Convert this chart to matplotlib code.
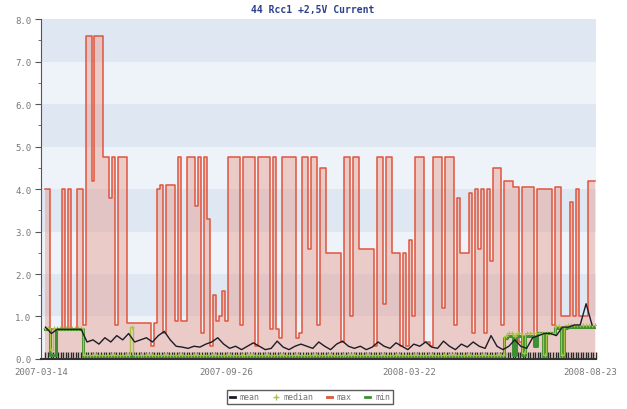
import numpy as np
import matplotlib
matplotlib.use("Agg")
import matplotlib.pyplot as plt
from matplotlib.lines import Line2D

# --- datos (una muestra cada ~3 px) ---
titulo = "44 Rcc1 +2,5V Current"
etiquetas_x = ["2007-03-14", "2007-09-26", "2008-03-22", "2008-08-23"]
pos_etiquetas_x = [-1.5, 61.0, 122.5, 183.5]

valores_max = [
    4.0, 4.0, 0.7, 0.7, 0.7, 0.7, 4.0, 0.7, 4.0, 0.7,
    0.7, 4.0, 4.0, 0.8, 7.6, 7.6, 4.2, 7.6, 7.6, 7.6,
    4.75, 4.75, 3.8, 4.75, 0.8, 4.75, 4.75, 4.75, 0.85, 0.85,
    0.85, 0.85, 0.85, 0.85, 0.85, 0.85, 0.3, 0.85, 4.0, 4.1,
    0.6, 4.1, 4.1, 4.1, 0.9, 4.75, 0.9, 0.9, 4.75, 4.75,
    4.75, 3.6, 4.75, 0.6, 4.75, 3.3, 0.3, 1.5, 0.9, 1.0,
    1.6, 0.9, 4.75, 4.75, 4.75, 4.75, 0.8, 4.75, 4.75, 4.75,
    4.75, 0.3, 4.75, 4.75, 4.75, 4.75, 0.7, 4.75, 0.7, 0.5,
    4.75, 4.75, 4.75, 4.75, 4.75, 0.5, 0.6, 4.75, 4.75, 2.6,
    4.75, 4.75, 0.8, 4.5, 4.5, 2.5, 2.5, 2.5, 2.5, 2.5,
    0.4, 4.75, 4.75, 1.0, 4.75, 4.75, 2.6, 2.6, 2.6, 2.6,
    2.6, 0.3, 4.75, 4.75, 1.3, 4.75, 4.75, 2.5, 2.5, 2.5,
    0.3, 2.5, 0.3, 2.8, 1.0, 4.75, 4.75, 4.75, 0.4, 0.4,
    0.3, 4.75, 4.75, 4.75, 1.2, 4.75, 4.75, 4.75, 0.8, 3.8,
    2.5, 2.5, 2.5, 3.9, 0.6, 4.0, 2.6, 4.0, 0.6, 4.0,
    2.3, 4.5, 4.5, 4.5, 0.8, 4.2, 4.2, 4.2, 4.05, 4.05,
    0.4, 4.05, 4.05, 4.05, 4.05, 0.3, 4.0, 4.0, 4.0, 4.0,
    4.0, 0.8, 4.05, 4.05, 1.0, 1.0, 1.0, 3.7, 1.0, 4.0,
    1.0, 1.0, 1.0, 4.2, 4.2, 4.2,
]

# media: una muestra cada 2 columnas
valores_media = [
    0.75, 0.6, 0.7, 0.7, 0.7, 0.7, 0.7, 0.4, 0.45, 0.35,
    0.5, 0.4, 0.55, 0.45, 0.6, 0.4, 0.45, 0.5, 0.4, 0.55,
    0.65, 0.45, 0.3, 0.28, 0.25, 0.3, 0.28, 0.35, 0.4, 0.5,
    0.35, 0.25, 0.3, 0.22, 0.3, 0.38, 0.3, 0.22, 0.25, 0.42,
    0.28, 0.22, 0.3, 0.35, 0.3, 0.25, 0.4, 0.3, 0.22, 0.35,
    0.42, 0.3, 0.25, 0.3, 0.22, 0.28, 0.4, 0.3, 0.25, 0.38,
    0.3, 0.22, 0.35, 0.3, 0.4, 0.28, 0.25, 0.42, 0.3, 0.22,
    0.35, 0.28, 0.4, 0.3, 0.25, 0.55, 0.3, 0.22, 0.3, 0.45,
    0.3, 0.25, 0.5, 0.55, 0.6, 0.6, 0.55, 0.75, 0.75, 0.8,
    0.8, 1.3, 0.8,
]

valores_mediana = [
    0.72, 0.72, 0.2, 0.72, 0.72, 0.72, 0.72, 0.72, 0.72, 0.72,
    0.72, 0.72, 0.72, 0.1, 0.1, 0.1, 0.1, 0.1, 0.1, 0.1,
    0.1, 0.1, 0.1, 0.1, 0.1, 0.1, 0.1, 0.1, 0.1, 0.75,
    0.1, 0.1, 0.1, 0.1, 0.1, 0.1, 0.1, 0.1, 0.1, 0.1,
    0.1, 0.1, 0.1, 0.1, 0.1, 0.1, 0.1, 0.1, 0.1, 0.1,
    0.1, 0.1, 0.1, 0.1, 0.1, 0.1, 0.1, 0.1, 0.1, 0.1,
    0.1, 0.1, 0.1, 0.1, 0.1, 0.1, 0.1, 0.1, 0.1, 0.1,
    0.1, 0.1, 0.1, 0.1, 0.1, 0.1, 0.1, 0.1, 0.1, 0.1,
    0.1, 0.1, 0.1, 0.1, 0.1, 0.1, 0.1, 0.1, 0.1, 0.1,
    0.1, 0.1, 0.1, 0.1, 0.1, 0.1, 0.1, 0.1, 0.1, 0.1,
    0.1, 0.1, 0.1, 0.1, 0.1, 0.1, 0.1, 0.1, 0.1, 0.1,
    0.1, 0.1, 0.1, 0.1, 0.1, 0.1, 0.1, 0.1, 0.1, 0.1,
    0.1, 0.1, 0.1, 0.1, 0.1, 0.1, 0.1, 0.1, 0.1, 0.1,
    0.1, 0.1, 0.1, 0.1, 0.1, 0.1, 0.1, 0.1, 0.1, 0.1,
    0.1, 0.1, 0.1, 0.1, 0.1, 0.1, 0.1, 0.1, 0.1, 0.1,
    0.1, 0.1, 0.1, 0.1, 0.1, 0.55, 0.6, 0.6, 0.55, 0.6,
    0.6, 0.15, 0.6, 0.6, 0.6, 0.6, 0.62, 0.62, 0.1, 0.62,
    0.62, 0.62, 0.78, 0.78, 0.1, 0.78, 0.8, 0.8, 0.8, 0.8,
    0.8, 0.8, 0.8, 0.8, 0.8, 0.8,
]

valores_min = [
    0.7, 0.7, 0.1, 0.1, 0.7, 0.7, 0.7, 0.7, 0.7, 0.7,
    0.7, 0.7, 0.7, 0.08, 0.08, 0.08, 0.08, 0.08, 0.08, 0.08,
    0.08, 0.08, 0.08, 0.08, 0.08, 0.08, 0.08, 0.08, 0.08, 0.08,
    0.08, 0.08, 0.08, 0.08, 0.08, 0.08, 0.08, 0.08, 0.08, 0.08,
    0.08, 0.08, 0.08, 0.08, 0.08, 0.08, 0.08, 0.08, 0.08, 0.08,
    0.08, 0.08, 0.08, 0.08, 0.08, 0.08, 0.08, 0.08, 0.08, 0.08,
    0.08, 0.08, 0.08, 0.08, 0.08, 0.08, 0.08, 0.08, 0.08, 0.08,
    0.08, 0.08, 0.08, 0.08, 0.08, 0.08, 0.08, 0.08, 0.08, 0.08,
    0.08, 0.08, 0.08, 0.08, 0.08, 0.08, 0.08, 0.08, 0.08, 0.08,
    0.08, 0.08, 0.08, 0.08, 0.08, 0.08, 0.08, 0.08, 0.08, 0.08,
    0.08, 0.08, 0.08, 0.08, 0.08, 0.08, 0.08, 0.08, 0.08, 0.08,
    0.08, 0.08, 0.08, 0.08, 0.08, 0.08, 0.08, 0.08, 0.08, 0.08,
    0.08, 0.08, 0.08, 0.08, 0.08, 0.08, 0.08, 0.08, 0.08, 0.08,
    0.08, 0.08, 0.08, 0.08, 0.08, 0.08, 0.08, 0.08, 0.08, 0.08,
    0.08, 0.08, 0.08, 0.08, 0.08, 0.08, 0.08, 0.08, 0.08, 0.08,
    0.08, 0.08, 0.08, 0.08, 0.08, 0.5, 0.55, 0.55, 0.1, 0.55,
    0.55, 0.1, 0.55, 0.55, 0.55, 0.3, 0.6, 0.6, 0.08, 0.6,
    0.6, 0.6, 0.72, 0.72, 0.08, 0.72, 0.75, 0.75, 0.75, 0.75,
    0.75, 0.75, 0.75, 0.75, 0.75, 0.75,
]

# --- figura ---
fig = plt.figure(figsize=(6.27, 4.10), dpi=100)
fig.patch.set_facecolor("white")
ax = fig.add_axes([0.0654, 0.122, 0.885, 0.829])

n = len(valores_max)
x = np.arange(n)
x_media = np.arange(0, 2 * len(valores_media), 2)

# bandas de fondo alternas
for i in range(8):
    color = "#dfe7f3" if i % 2 == 1 else "#eef2f9"
    ax.axhspan(i, i + 1, color=color, zorder=0, lw=0)

ax.fill_between(x, 0, valores_max, step="mid", color="#e8836d",
                alpha=0.35, lw=0, zorder=1)
ax.plot(x, valores_max, color="#e0553c", lw=1.1, drawstyle="steps-mid",
        zorder=2)
ax.plot(x, valores_min, color="#3f8f34", lw=2.2, drawstyle="steps-mid",
        zorder=3)
ax.plot(x, valores_mediana, color="#a9c245", lw=1.0, marker="+", ms=3,
        mew=0.7, drawstyle="steps-mid", zorder=4)
ax.plot(x_media, valores_media, color="#1c1c28", lw=1.0, zorder=5)

ax.set_xlim(-0.3, n - 0.7)
ax.set_ylim(0, 8.0)

ax.set_yticks(np.arange(0, 8.01, 1.0))
ax.set_yticklabels([f"{v:.1f}" for v in np.arange(0, 8.01, 1.0)])
ax.set_yticks(np.arange(0.5, 8, 1.0), minor=True)
ax.set_xticks(pos_etiquetas_x)
ax.set_xticklabels(etiquetas_x)
ax.set_xticks(np.arange(0, n, 0.85), minor=True)

fuente = "DejaVu Sans Mono"
ax.tick_params(axis="y", which="major", length=4, color="#555555",
               labelsize=6.5, labelcolor="#777777", pad=3)
ax.tick_params(axis="y", which="minor", length=2, color="#555555")
ax.tick_params(axis="x", which="major", length=0, labelsize=6.5,
               labelcolor="#777777", pad=6)
ax.tick_params(axis="x", which="minor", direction="in", length=5,
               width=1.0, color="#2a2a2a")
for lab in ax.get_xticklabels() + ax.get_yticklabels():
    lab.set_family(fuente)

for lado in ["top", "right"]:
    ax.spines[lado].set_visible(False)
ax.spines["left"].set_color("#555555")
ax.spines["bottom"].set_color("#333333")
ax.spines["bottom"].set_linewidth(1.5)

fig.text(313 / 627, 1 - 10 / 410, titulo, ha="center", va="center",
         fontsize=7, fontweight="bold", color="#2b3f8c", family=fuente)

manejadores = [
    Line2D([], [], color="#1c1c28", lw=2),
    Line2D([], [], color="#a9c245", lw=0, marker="+", ms=5, mew=1),
    Line2D([], [], color="#e0553c", lw=2),
    Line2D([], [], color="#3f8f34", lw=2),
]
leg = fig.legend(manejadores, ["mean", "median", "max", "min"], ncol=4,
                 loc="center", bbox_to_anchor=(310 / 627, 1 - 398 / 410),
                 prop={"family": fuente, "size": 6},
                 handlelength=0.6, handletextpad=0.6, columnspacing=1.6,
                 frameon=True, fancybox=False, borderpad=0.35)
leg.get_frame().set_edgecolor("#333333")
leg.get_frame().set_linewidth(1.0)
for t in leg.get_texts():
    t.set_color("#777777")

fig.savefig("out.png", dpi=100)
